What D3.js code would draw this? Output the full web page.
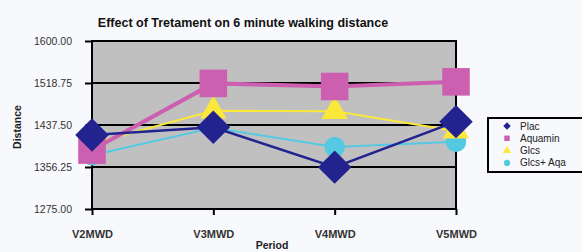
<!DOCTYPE html>
<html><head><meta charset="utf-8">
<script src="https://cdn.jsdelivr.net/npm/d3@7"></script>
<style>body{margin:0;background:#f8f9fc;}svg{display:block;font-family:Arial,"Liberation Sans",sans-serif;}</style>
</head><body><svg id="c" width="582" height="252"></svg>
<script>
const categories = ["V2MWD","V3MWD","V4MWD","V5MWD"];
const seriesNames = ["Plac","Aquamin","Glcs","Glcs+ Aqa"];
const plac = [1418,1433,1356,1444];
const aquamin = [1389,1518,1512,1521];
const glcs = [1402,1465,1464,1426];
const glcsAqa = [1379,1432,1395,1405];
const yTicks = [1275,1356.25,1437.5,1518.75,1600];

const svg = d3.select("#c");
const L=92,R=456,T=41,B=209;
const x = d3.scalePoint().domain(categories).range([L,R]);
const y = d3.scaleLinear().domain([1275,1600]).range([B,T]);
const FONT = "Arial,'Liberation Sans',sans-serif";

svg.append("rect").attr("width",582).attr("height",252).attr("fill","#f8f9fc");
svg.append("text").attr("x",243).attr("y",27).attr("text-anchor","middle").attr("font-size",12.5).attr("font-weight","bold").attr("fill","#111").text("Effect of Tretament on 6 minute walking distance");

svg.append("rect").attr("x",L).attr("y",T).attr("width",R-L).attr("height",B-T).attr("fill","#c0c0c0");
svg.append("g").selectAll("line").data(yTicks).join("line")
  .attr("x1",L).attr("x2",R).attr("y1",d=>y(d)).attr("y2",d=>y(d)).attr("stroke","#000").attr("stroke-width",2);
svg.append("rect").attr("x",L).attr("y",T).attr("width",R-L).attr("height",B-T).attr("fill","none").attr("stroke","#000").attr("stroke-width",2);

const ya = svg.append("g").attr("transform",`translate(${L},0)`).call(d3.axisLeft(y).tickValues(yTicks).tickFormat(d3.format(".2f")).tickSize(7).tickPadding(13));
ya.select(".domain").remove();
ya.selectAll("line").attr("stroke","#000").attr("stroke-width",2);
ya.selectAll("text").attr("font-size",10.5).attr("fill","#333").attr("font-family",FONT);
const xa = svg.append("g").attr("transform",`translate(0,${B})`).call(d3.axisBottom(x).tickSize(6).tickPadding(15));
xa.select(".domain").remove();
xa.selectAll("line").attr("stroke","#000").attr("stroke-width",2);
xa.selectAll("text").attr("font-size",11).attr("font-weight","bold").attr("fill","#333").attr("font-family",FONT);

svg.append("text").attr("transform","translate(21,127) rotate(-90)").attr("text-anchor","middle").attr("font-size",10.5).attr("font-weight","bold").attr("fill","#222").text("Distance");
svg.append("text").attr("x",272).attr("y",249).attr("text-anchor","middle").attr("font-size",10.5).attr("font-weight","bold").attr("fill","#222").text("Period");

const series = [
  {name:seriesNames[3], vals:glcsAqa, color:"#55c8e2", sym:d3.symbolCircle, size:330, w:2, rot:0},
  {name:seriesNames[2], vals:glcs, color:"#fbe83a", sym:d3.symbolTriangle, size:300, w:2, rot:0},
  {name:seriesNames[1], vals:aquamin, color:"#cc5fb0", sym:d3.symbolSquare, size:760, w:4, rot:0},
  {name:seriesNames[0], vals:plac, color:"#23238f", sym:d3.symbolSquare, size:560, w:2.5, rot:45}
];
const line = d3.line().x((d,i)=>x(categories[i])).y(d=>y(d));
series.forEach(s=>{
  svg.append("path").attr("d",line(s.vals)).attr("fill","none").attr("stroke",s.color).attr("stroke-width",s.w);
});
series.forEach(s=>{
  svg.append("g").selectAll("path").data(s.vals).join("path")
    .attr("transform",(d,i)=>`translate(${x(categories[i])},${y(d)}) rotate(${s.rot})`)
    .attr("d",d3.symbol(s.sym,s.size)).attr("fill",s.color);
});

const lg = svg.append("g");
lg.append("rect").attr("x",488).attr("y",118).attr("width",100).attr("height",54).attr("fill","#f8f9fc").attr("stroke","#000").attr("stroke-width",2);
const legendSeries = series.slice().reverse();
legendSeries.forEach((s,i)=>{
  const yy = 126 + i*12.3;
  lg.append("path").attr("transform",`translate(507,${yy}) rotate(${s.rot})`).attr("d",d3.symbol(s.sym,s.sym===d3.symbolTriangle?30:s.rot?28:30)).attr("fill",s.color);
  lg.append("text").attr("x",520).attr("y",yy+3.5).attr("font-size",10).attr("fill","#222").attr("font-family",FONT).text(s.name);
});
</script></body></html>
